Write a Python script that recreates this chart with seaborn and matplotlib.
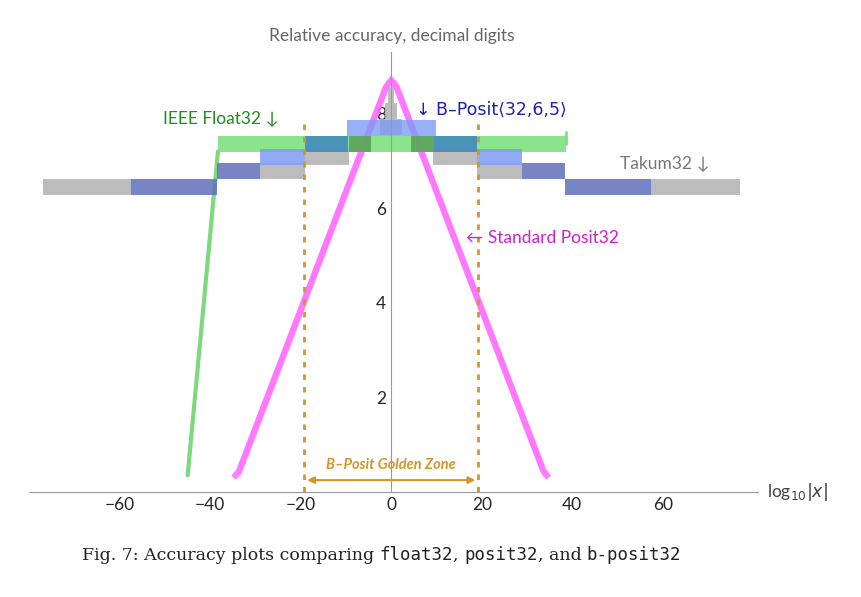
import matplotlib
matplotlib.use("Agg")
import matplotlib.pyplot as plt
import seaborn as sns
import pandas as pd

sns.set_style("white")
plt.rcParams['font.family'] = ['Lato', 'DejaVu Sans']

# ---- data ----
# standard posit32: step edges (right half) and accuracy on each step
posit_edges = [0, 1.2, 2.4, 3.6, 4.8, 6.0, 7.2, 8.4, 9.6, 10.8, 12.0, 13.2, 14.4, 15.6, 16.8,
               18.0, 19.2, 20.4, 21.6, 22.8, 24.0, 25.2, 26.4, 27.6, 28.8, 30.0, 31.2, 32.4,
               33.6, 34.8]
posit_levels = [8.7, 8.4, 8.1, 7.8, 7.5, 7.2, 6.9, 6.6, 6.3, 6.0, 5.7, 5.4, 5.1, 4.8, 4.5,
                4.2, 3.9, 3.6, 3.3, 3.0, 2.7, 2.4, 2.1, 1.8, 1.5, 1.2, 0.9, 0.6, 0.3]

# float32: flat band plus subnormal ramp
float_x = [-38.3, 38.6]
float_y = 7.36
float_ramp_x = [-38.3, -45.0]
float_ramp_y = [7.2, 0.35]

# takum32 visible segments (x0, x1, y), mirrored
takum_segs = [(57.5, 77.0, 6.45), (19.0, 29.0, 6.78), (9.3, 19.0, 7.08),
              (4.4, 9.4, 7.36), (0.0, 2.4, 7.72), (0.0, 1.3, 8.05), (0.0, 0.7, 8.4)]
# b-posit<32,6,5> segments (x0, x1, y), mirrored
bposit_segs = [(38.5, 57.5, 6.45), (29.0, 38.5, 6.78), (19.0, 29.0, 7.08),
               (9.5, 19.0, 7.36), (0.0, 9.8, 7.70)]
bposit_cols = ["#5f6fbb", "#5f6fbb", "#7f9cf5", "#3d85bf", "#7f9cf5"]

golden = 19.2

fig = plt.figure(figsize=(8.62, 5.97), dpi=100)
ax = fig.add_axes([0.034, 0.176, 0.845, 0.737])
ax.set_xlim(-80, 81)
ax.set_ylim(0, 9.3)

# posit32 staircase
px, py = [], []
for i in range(len(posit_levels) - 1, -1, -1):
    px += [-posit_edges[i + 1], -posit_edges[i]]
    py += [posit_levels[i], posit_levels[i]]
for i in range(len(posit_levels)):
    px += [posit_edges[i], posit_edges[i + 1]]
    py += [posit_levels[i], posit_levels[i]]
pdf = pd.DataFrame({"x": px, "y": py})
sns.lineplot(data=pdf, x="x", y="y", sort=False, ax=ax, color="#ff66ff", lw=4.5,
             alpha=0.85, solid_joinstyle="miter", solid_capstyle="butt", clip_on=False)

lw = 11.5
# float32
ax.plot(float_ramp_x, float_ramp_y, color="#6ed66e", lw=3, alpha=0.9)
ax.hlines(float_y, float_x[0], float_x[1], color="#7fe07f", lw=lw, alpha=0.9)
ax.plot([38.6, 38.6], [7.36, 7.6], color="#7fe07f", lw=2)

# takum32
for x0, x1, y in takum_segs:
    for a, b in [(x0, x1), (-x1, -x0)]:
        c = "#5f9f5f" if y == 7.36 else "#b5b5b5"
        ax.hlines(y, a, b, color=c, lw=lw, alpha=0.9)

# b-posit
for (x0, x1, y), c in zip(bposit_segs, bposit_cols):
    for a, b in [(x0, x1), (-x1, -x0)]:
        ax.hlines(y, a, b, color=c, lw=lw, alpha=0.85 if y != 7.70 else 0.8)

# golden zone
for g in (-golden, golden):
    ax.plot([g, g], [0, 7.9], ls=(0, (2, 2.5)), color="#d4952a", lw=2)
ax.annotate("", xy=(-golden, 0.25), xytext=(golden, 0.25),
            arrowprops=dict(arrowstyle="<|-|>", color="#d4952a", lw=1.5, mutation_scale=10))
ax.text(0, 0.57, "B–Posit Golden Zone", color="#d4952a", fontsize=10.5, style="italic",
        weight="bold", ha="center", va="center")

# labels
ax.text(-50.5, 7.9, "IEEE Float32 ↓", color="#1e8c1e", fontsize=12.5, va="center")
ax.text(5.5, 8.07, "↓ B–Posit⟨32,6,5⟩", color="#2020b0", fontsize=12.5, va="center",
        family=["DejaVu Sans"])
ax.text(50.5, 6.95, "Takum32 ↓", color="#777777", fontsize=12.5, va="center")
ax.text(16.5, 5.36, "← Standard Posit32", color="#d020d0", fontsize=12.5, va="center")

# mathematica-like axes
for s in ["top", "right"]:
    ax.spines[s].set_visible(False)
ax.spines["left"].set_position(("data", 0))
ax.spines["bottom"].set_position(("data", 0))
for s in ["left", "bottom"]:
    ax.spines[s].set_color("#999999")
ax.set_xticks([-60, -40, -20, 0, 20, 40, 60])
ax.set_xticks(range(-80, 81, 5), minor=True)
ax.set_yticks([2, 4, 6, 8])
ax.set_yticks([0.5 * k for k in range(1, 19)], minor=True)
ax.tick_params(which="both", direction="in", color="#999999", labelsize=12.5)
ax.tick_params(which="major", length=5)
ax.tick_params(which="minor", length=2.5)
ax.set_xlabel("")
ax.set_ylabel("")
fig.text(0.455, 0.94, "Relative accuracy, decimal digits", color="#666666", fontsize=12.5,
         ha="center", va="center")
fig.text(0.89, 0.176, r"log$_{10}|x|$", color="#444444", fontsize=12.5, va="center")

# caption with serif + monospace pieces
pieces = [("Fig. 7: Accuracy plots comparing ", "DejaVu Serif"), ("float32", "DejaVu Sans Mono"),
          (", ", "DejaVu Serif"), ("posit32", "DejaVu Sans Mono"), (", and ", "DejaVu Serif"),
          ("b-posit32", "DejaVu Sans Mono")]
fig.canvas.draw()
r = fig.canvas.get_renderer()
x = 0.095
for t, f in pieces:
    txt = fig.text(x, 0.07, t, family=f, fontsize=12.5, va="center", color="#222222")
    x += txt.get_window_extent(r).width / fig.bbox.width

fig.savefig("out.png", dpi=100)
